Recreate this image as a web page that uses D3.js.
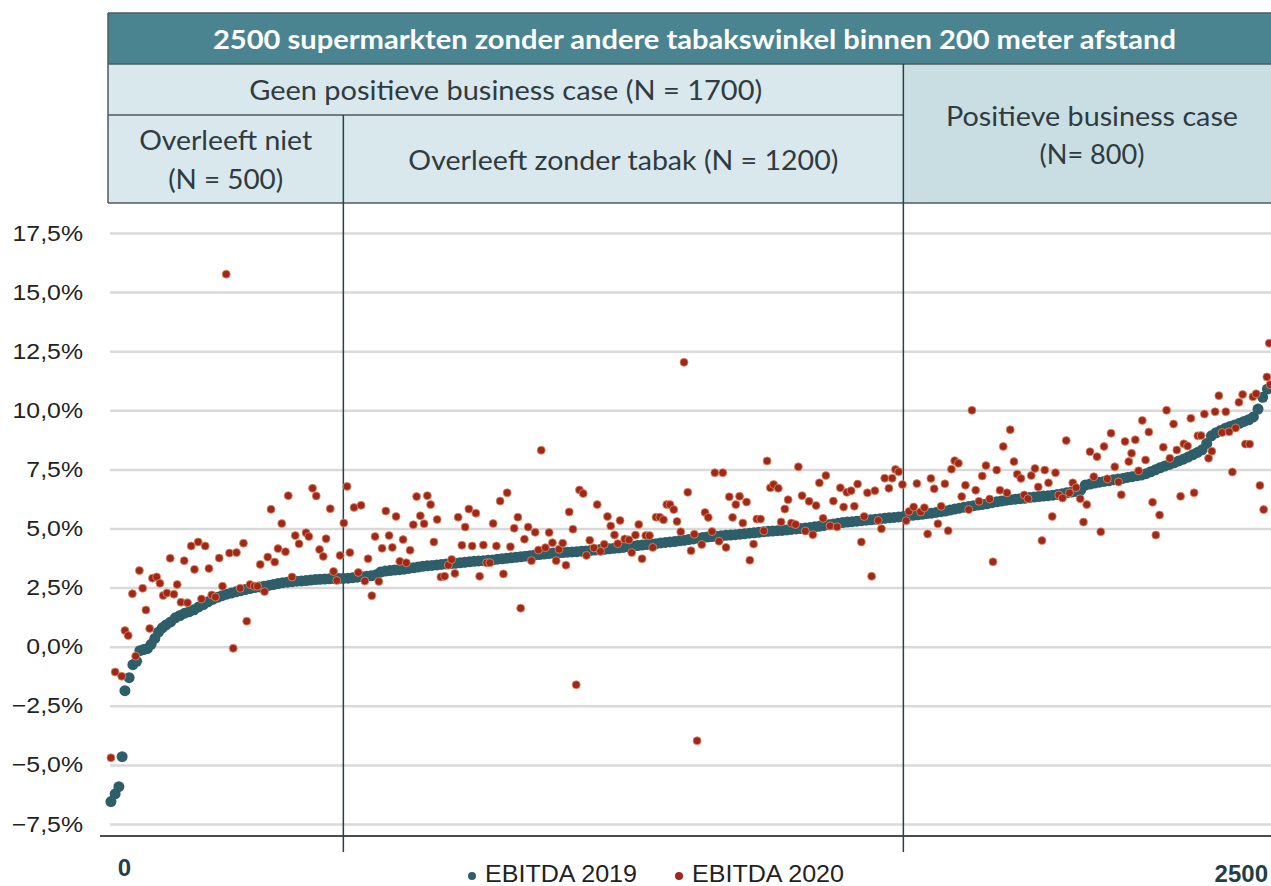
<!DOCTYPE html>
<html>
<head>
<meta charset="utf-8">
<script src="https://cdn.jsdelivr.net/npm/d3@7"></script>
<style>
  body { margin: 0; background: #fff; }
  svg { display: block; }
</style>
</head>
<body>
<figure id="ebitda" style="margin:0"></figure>
<script>
// Data

const yTicks = [-7.5, -5, -2.5, 0, 2.5, 5, 7.5, 10, 12.5, 15, 17.5];
const storeRange = [0, 2500];
const seriesNames = ["EBITDA 2019", "EBITDA 2020"];

const titleLabel = "2500 supermarkten zonder andere tabakswinkel binnen 200 meter afstand";
const groupLabels = ["Geen positieve business case  (N = 1700)", "Positieve business case", "(N= 800)"];
const subLabels = ["Overleeft niet", "(N = 500)", "Overleeft zonder tabak (N = 1200)"];
const groupBreaks = [500, 1700];

// EBITDA 2019: [store rank, %], sorted
const ebitda2019 = [
  [2,-6.55],[11,-6.23],[19,-5.92],[26,-4.65],[32,-1.86],[41,-1.31],[49,-0.76],[57,-0.62],[64,-0.17],
  [72,-0.12],[80,-0.08],[88,0.10],[96,0.35],[104,0.62],[112,0.80],[120,0.92],[130,1.05],[140,1.22],
  [150,1.32],[160,1.42],[170,1.48],[180,1.56],[190,1.68],[200,1.78],[210,1.90],[220,2.00],[230,2.09],
  [240,2.16],[250,2.22],[260,2.27],[270,2.32],[280,2.37],[290,2.42],[300,2.46],[310,2.50],[320,2.53],
  [330,2.56],[340,2.59],[350,2.63],[360,2.67],[370,2.71],[380,2.73],[390,2.75],[400,2.77],[410,2.78],
  [420,2.80],[430,2.82],[440,2.84],[450,2.85],[460,2.86],[470,2.87],[480,2.88],[490,2.88],[500,2.89],
  [510,2.90],[520,2.92],[530,2.94],[540,2.96],[550,2.98],[560,3.00],[570,3.04],[580,3.16],[590,3.20],
  [600,3.22],[610,3.24],[620,3.26],[630,3.28],[640,3.31],[650,3.34],[660,3.37],[670,3.40],[680,3.42],
  [690,3.44],[700,3.46],[710,3.48],[720,3.50],[730,3.51],[740,3.53],[750,3.55],[760,3.57],[770,3.59],
  [780,3.61],[790,3.63],[800,3.64],[810,3.66],[820,3.67],[830,3.70],[840,3.72],[850,3.74],[860,3.76],
  [870,3.78],[880,3.80],[890,3.83],[900,3.85],[910,3.88],[920,3.90],[930,3.92],[940,3.94],[950,3.96],
  [960,3.97],[970,3.98],[980,4.00],[990,4.01],[1000,4.02],[1010,4.04],[1020,4.05],[1030,4.07],[1040,4.09],
  [1050,4.11],[1060,4.12],[1070,4.14],[1080,4.16],[1090,4.18],[1100,4.20],[1110,4.23],[1120,4.26],[1130,4.28],
  [1140,4.30],[1150,4.32],[1160,4.34],[1170,4.36],[1180,4.39],[1190,4.41],[1200,4.43],[1210,4.45],[1220,4.48],
  [1230,4.50],[1240,4.53],[1250,4.56],[1260,4.59],[1270,4.62],[1280,4.64],[1290,4.66],[1300,4.67],[1310,4.69],
  [1320,4.71],[1330,4.72],[1340,4.74],[1350,4.76],[1360,4.78],[1370,4.80],[1380,4.82],[1390,4.84],[1400,4.86],
  [1410,4.88],[1420,4.89],[1430,4.91],[1440,4.92],[1450,4.94],[1460,4.96],[1470,4.98],[1480,5.00],[1490,5.02],
  [1500,5.04],[1510,5.07],[1520,5.10],[1530,5.13],[1540,5.16],[1550,5.19],[1560,5.22],[1570,5.25],[1580,5.27],
  [1590,5.29],[1600,5.31],[1610,5.33],[1620,5.35],[1630,5.37],[1640,5.39],[1650,5.41],[1660,5.43],[1670,5.45],
  [1680,5.47],[1690,5.49],[1700,5.51],[1710,5.54],[1720,5.56],[1730,5.58],[1740,5.60],[1750,5.63],[1760,5.65],
  [1770,5.68],[1780,5.71],[1790,5.74],[1800,5.78],[1810,5.82],[1820,5.86],[1830,5.90],[1840,5.93],[1850,5.96],
  [1860,5.99],[1870,6.02],[1880,6.05],[1890,6.09],[1900,6.13],[1910,6.16],[1920,6.19],[1930,6.22],[1940,6.24],
  [1950,6.26],[1960,6.28],[1970,6.31],[1980,6.33],[1990,6.35],[2000,6.37],[2010,6.39],[2020,6.41],[2030,6.44],
  [2040,6.47],[2050,6.51],[2060,6.54],[2070,6.57],[2080,6.62],[2090,6.84],[2100,6.88],[2110,6.92],[2120,6.96],
  [2130,6.99],[2140,7.02],[2150,7.06],[2160,7.09],[2170,7.12],[2180,7.16],[2190,7.19],[2200,7.23],[2210,7.26],
  [2220,7.32],[2230,7.40],[2240,7.48],[2250,7.57],[2260,7.64],[2270,7.71],[2280,7.78],[2290,7.86],[2300,7.93],
  [2310,8.02],[2320,8.12],[2330,8.22],[2340,8.33],[2350,8.60],[2360,8.92],[2370,9.05],[2380,9.15],[2390,9.24],
  [2400,9.32],[2410,9.38],[2420,9.45],[2430,9.53],[2440,9.60],[2450,9.72],[2460,10.05],[2470,10.55],[2480,10.90]
];

// EBITDA 2020: [store rank (sorted on 2019), %]
const ebitda2020 = [
  [2,-4.70],[11,-1.07],[25,-1.25],[32,0.68],[39,0.47],[48,2.24],[55,-0.40],[63,3.22],[70,2.47],[77,1.55],
  [85,0.77],[91,2.90],[100,2.95],[107,2.68],[114,2.17],[122,2.27],[129,3.74],[137,2.22],[144,2.63],[152,1.88],
  [159,3.64],[166,1.86],[174,4.26],[181,3.27],[189,4.43],[196,2.02],[204,4.26],[212,3.31],[218,2.19],[226,2.10],
  [234,3.75],[241,2.56],[249,15.76],[256,3.96],[264,-0.07],[271,3.98],[279,2.47],[286,4.38],[293,1.08],[300,2.63],
  [309,2.56],[316,2.56],[322,3.48],[331,2.33],[338,3.79],[345,5.81],[353,3.58],[360,4.15],[368,5.21],[376,4.02],
  [382,6.39],[390,2.95],[397,4.70],[405,4.35],[420,4.82],[426,4.66],[434,6.70],[442,6.38],[449,4.11],[457,3.82],
  [463,4.57],[472,5.84],[479,3.18],[486,2.80],[493,3.86],[501,5.23],[508,6.78],[514,3.98],
  [523,5.89],[532,3.14],[538,5.98],[546,2.78],[553,3.72],[561,2.16],[568,4.66],[576,2.76],[583,4.16],[591,5.74],
  [598,4.70],[605,4.20],[613,5.51],[621,3.61],[628,4.53],[635,3.55],[643,4.08],[650,5.16],[657,6.35],[665,5.54],
  [673,5.20],[680,6.39],[687,6.01],[694,4.43],[701,5.38],[709,2.95],[717,2.98],[725,3.45],[732,3.69],[739,3.10],
  [746,5.48],[754,4.29],[761,5.06],[769,5.82],[776,4.26],[784,5.65],[792,2.98],[800,4.30],[807,3.55],[814,3.55],
  [821,5.21],[828,4.26],[836,6.16],[843,3.08],[851,6.51],[858,4.23],[866,5.01],[874,5.48],[880,1.63],[888,4.55],
  [896,5.06],[903,3.64],[911,4.84],[918,4.09],[924,8.31],[933,4.19],[941,4.83],[948,4.40],[956,3.64],[962,4.12],
  [970,4.38],[977,3.45],[984,5.70],[992,4.97],[999,-1.61],[1006,6.63],[1014,6.48],[1021,3.86],[1028,4.50],[1037,4.18],
  [1044,6.01],[1051,4.03],[1059,4.33],[1066,5.51],[1073,5.11],[1081,4.73],[1088,4.36],[1093,5.34],
  [1103,4.56],[1112,4.52],[1118,3.98],[1126,4.72],[1133,5.17],[1140,3.72],[1148,4.70],[1156,4.70],[1163,4.20],[1170,5.48],
  [1178,5.48],[1186,5.37],[1193,6.01],[1200,6.01],[1208,5.80],[1215,5.30],[1223,4.86],[1230,12.03],[1238,6.53],[1245,4.06],
  [1252,4.76],[1258,-3.98],[1268,4.32],[1275,5.68],[1282,5.47],[1290,4.87],[1296,7.36],[1305,4.46],[1313,7.36],[1320,4.20],
  [1327,6.34],[1334,5.47],[1341,6.01],[1349,6.36],[1356,5.23],[1364,6.12],[1371,3.66],[1379,4.34],[1386,5.40],[1394,5.40],
  [1401,4.90],[1408,7.86],[1415,6.72],[1422,6.86],[1432,6.70],[1438,5.28],[1446,5.82],[1453,6.22],[1460,5.23],[1469,5.17],
  [1475,7.61],[1483,6.39],[1490,4.89],[1498,6.15],[1506,4.74],[1513,5.97],[1520,6.93],[1528,5.43],[1534,7.24],[1543,5.11],
  [1550,6.16],[1558,5.07],[1565,6.72],[1572,5.91],[1579,6.53],[1588,6.60],[1595,5.94],[1602,6.88],[1610,4.43],[1616,5.51],
  [1623,6.51],[1632,2.98],[1639,6.60],[1646,5.34],[1653,4.99],[1660,7.13],[1669,6.70],[1676,7.13],[1683,7.50],[1690,7.40],
  [1698,6.86],[1706,5.33],[1712,5.72],
  [1722,5.91],[1729,6.90],[1737,5.70],[1745,5.88],[1752,4.77],[1759,7.12],[1766,6.68],[1774,5.20],[1781,5.94],[1789,6.89],
  [1796,4.91],[1803,7.51],[1810,7.87],[1818,7.76],[1825,6.35],[1833,6.83],[1840,5.80],[1847,10.0],[1855,6.62],[1862,6.15],
  [1869,7.22],[1877,7.66],[1885,6.25],[1892,3.59],[1900,7.47],[1907,6.62],[1914,8.47],[1922,6.51],[1929,9.18],[1937,7.83],
  [1944,7.30],[1952,7.12],[1959,6.42],[1967,6.26],[1974,7.24],[1982,7.54],[1989,6.76],[1997,4.49],[2003,7.47],[2011,6.93],
  [2019,5.51],[2026,7.36],[2033,6.42],[2041,6.29],[2049,8.72],[2056,6.51],[2063,6.93],[2070,6.73],[2079,6.26],[2086,5.27],
  [2093,6.01],[2100,8.25],[2108,7.19],[2115,8.04],[2123,4.86],[2130,8.47],[2137,7.10],[2145,9.03],[2153,7.61],[2161,6.97],
  [2167,6.43],[2175,8.68],[2183,7.83],[2189,8.18],[2197,8.75],[2204,7.44],[2212,9.57],[2219,7.90],[2226,9.08],[2234,6.11],
  [2241,4.72],[2249,5.57],[2257,8.44],[2264,10.0],[2271,7.97],[2279,9.42],[2286,8.32],[2294,6.36],[2301,8.58],[2309,8.49],
  [2316,9.66],[2323,6.51],[2331,8.92],[2338,8.93],[2345,9.84],[2354,7.97],[2361,8.27],[2368,9.94],[2376,10.62],[2383,9.06],
  [2391,9.94],[2398,9.09],[2405,7.39],[2412,9.25],[2419,10.34],[2427,10.67],[2433,8.57],[2442,8.57],[2449,10.57],[2456,10.70],
  [2464,6.82],[2472,5.80],[2479,11.41],[2484,12.84],[2486,11.09]
];

// Layout

const width = 1271;
const height = 886;
const tealColor = "#2e5e69";
const redColor = "#a3261b";
const textColor = "#2f3b40";

const svg = d3.select("figure#ebitda")
  .append("svg")
  .attr("width", width)
  .attr("height", height)
  .style("font-family", "'Liberation Sans', Arial, sans-serif");

const x = d3.scaleLinear()
  .domain(storeRange)
  .range([110, 1276.7]);

const y = d3.scaleLinear()
  .domain([yTicks[0], yTicks[yTicks.length - 1]])
  .range([824, 233]);

const nl = d3.formatLocale({ decimal: ",", thousands: ".", grouping: [3], currency: ["€", ""] });
const pct = nl.format(".1f");

// Gridlines
svg.append("g")
  .attr("transform", "translate(110,0)")
  .call(d3.axisLeft(y).tickValues(yTicks).tickSize(-(width - 110)).tickFormat(""))
  .call(g => g.select(".domain").remove())
  .call(g => g.selectAll(".tick line").attr("stroke", "#d9d9d9").attr("stroke-width", 2.5));

// Y axis labels
svg.append("g")
  .attr("transform", "translate(83,0)")
  .call(d3.axisLeft(y).tickValues(yTicks).tickSize(0).tickPadding(0).tickFormat(d => pct(d) + "%"))
  .call(g => g.select(".domain").remove())
  .call(g => g.selectAll(".tick text")
    .attr("font-size", 22)
    .attr("font-family", "'Liberation Sans', Arial, sans-serif")
    .attr("fill", "#222")
    .attr("transform", "scale(1.13,1)"));

// X axis line
svg.append("line")
  .attr("x1", 100).attr("x2", width)
  .attr("y1", 836).attr("y2", 836)
  .attr("stroke", "#111").attr("stroke-width", 1.5);

// Header table
const header = svg.append("g").style("font-family", "Lato, 'Open Sans', sans-serif");
const left = x(storeRange[0]) - 2;
const right = 1281;
const xa = x(groupBreaks[0]);
const xb = x(groupBreaks[1]);

header.append("rect").attr("x", left).attr("y", 13).attr("width", right - left).attr("height", 51).attr("fill", "#4a8491");
header.append("rect").attr("x", left).attr("y", 64).attr("width", xb - left).attr("height", 139).attr("fill", "#d8e8ec");
header.append("rect").attr("x", xb).attr("y", 64).attr("width", right - xb).attr("height", 139).attr("fill", "#c9dee3");

const borders = [
  [left, 13, right, 13], [left, 64, right, 64], [left, 115, xb, 115], [left, 203, right, 203],
  [left, 13, left, 203]
];
header.selectAll("line.border")
  .data(borders)
  .enter()
  .append("line")
  .attr("x1", d => d[0]).attr("y1", d => d[1])
  .attr("x2", d => d[2]).attr("y2", d => d[3])
  .attr("stroke", "#4f5a5e").attr("stroke-width", 1.5);

header.append("text")
  .attr("x", (left + right) / 2).attr("y", 49)
  .attr("text-anchor", "middle").attr("fill", "#fff")
  .attr("font-size", 26).attr("font-weight", "bold")
  .attr("textLength", 963).attr("lengthAdjust", "spacingAndGlyphs")
  .text(titleLabel);

const headerText = [
  { t: groupLabels[0], cx: (left + xb) / 2, y: 100, w: 513 },
  { t: groupLabels[1], cx: 1092, y: 126, w: 292 },
  { t: groupLabels[2], cx: 1092, y: 164, w: 105 },
  { t: subLabels[0], cx: (left + xa) / 2, y: 150, w: 173 },
  { t: subLabels[1], cx: (left + xa) / 2, y: 189, w: 115 },
  { t: subLabels[2], cx: (xa + xb) / 2, y: 170, w: 430 }
];
header.selectAll("text.cell")
  .data(headerText)
  .enter()
  .append("text")
  .attr("class", "cell")
  .attr("x", d => d.cx).attr("y", d => d.y)
  .attr("text-anchor", "middle").attr("fill", textColor)
  .attr("font-size", 26)
  .attr("textLength", d => d.w).attr("lengthAdjust", "spacingAndGlyphs")
  .text(d => d.t);

// Segment dividers
svg.append("line").attr("x1", xa).attr("x2", xa).attr("y1", 115).attr("y2", 852)
  .attr("stroke", "#27434b").attr("stroke-width", 1.5);
svg.append("line").attr("x1", xb).attr("x2", xb).attr("y1", 64).attr("y2", 852)
  .attr("stroke", "#27434b").attr("stroke-width", 1.5);

// Points
svg.append("g").selectAll("circle")
  .data(ebitda2019)
  .enter()
  .append("circle")
  .attr("cx", d => x(d[0]))
  .attr("cy", d => y(d[1]))
  .attr("r", 5.5)
  .attr("fill", tealColor);

svg.append("g").selectAll("circle")
  .data(ebitda2020)
  .enter()
  .append("circle")
  .attr("cx", d => x(d[0]))
  .attr("cy", d => y(d[1]))
  .attr("r", 4)
  .attr("fill", redColor)
  .attr("stroke", "#d8925f")
  .attr("stroke-width", 0.8);

// X labels
svg.append("text")
  .attr("x", 124.5).attr("y", 876)
  .attr("text-anchor", "middle")
  .attr("font-size", 24).attr("font-weight", "bold")
  .attr("fill", "#1f3f4a")
  .text(storeRange[0]);
svg.append("text")
  .attr("x", 1268).attr("y", 882)
  .attr("text-anchor", "end")
  .attr("font-size", 24).attr("font-weight", "bold")
  .attr("fill", "#1f3f4a")
  .text(storeRange[1]);

// Legend
const legend = svg.append("g");
const legendItems = [
  { name: seriesNames[0], color: tealColor, x: 472 },
  { name: seriesNames[1], color: redColor, x: 679 }
];
legendItems.forEach(d => {
  legend.append("circle").attr("cx", d.x).attr("cy", 876).attr("r", 4).attr("fill", d.color);
  legend.append("text")
    .attr("x", d.x + 13).attr("y", 882)
    .attr("font-size", 23).attr("fill", "#222")
    .attr("textLength", 152).attr("lengthAdjust", "spacingAndGlyphs")
    .text(d.name);
});
</script>
</body>
</html>
